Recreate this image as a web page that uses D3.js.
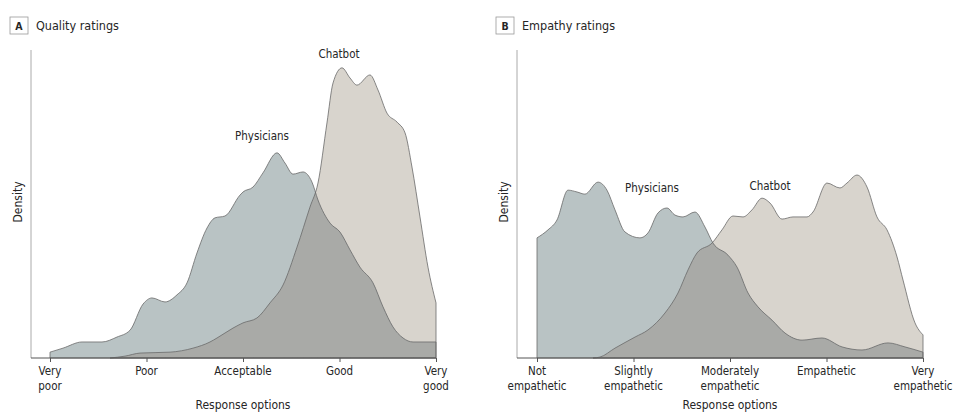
<!DOCTYPE html>
<html>
<head>
<meta charset="utf-8">
<script src="https://cdn.jsdelivr.net/npm/d3@7"></script>
<style>
  body { margin: 0; background: #fff; }
  text { font-family: "DejaVu Sans Condensed", "DejaVu Sans", sans-serif; fill: #262626; }
</style>
</head>
<body>
<svg id="chart" width="967" height="415"></svg>
<script>
// response scale 1..5, density in arbitrary units
var qualityTicks = ["Very|poor", "Poor", "Acceptable", "Good", "Very|good"];
var empathyTicks = ["Not|empathetic", "Slightly|empathetic", "Moderately|empathetic", "Empathetic", "Very|empathetic"];

var qualityPhysX = [1.000, 1.135, 1.332, 1.539, 1.694, 1.829, 1.964, 2.057, 2.192, 2.316, 2.420, 2.523, 2.627, 2.710, 2.813, 2.969, 3.000, 3.104, 3.207, 3.352, 3.435, 3.518, 3.622, 3.715, 3.777, 3.902, 4.005, 4.109, 4.212, 4.347, 4.451, 4.554, 4.658, 4.762, 5.000];
var qualityPhysY = [0.019, 0.032, 0.052, 0.052, 0.068, 0.090, 0.175, 0.195, 0.182, 0.205, 0.244, 0.341, 0.422, 0.455, 0.461, 0.529, 0.539, 0.555, 0.601, 0.666, 0.633, 0.597, 0.604, 0.571, 0.513, 0.438, 0.409, 0.351, 0.295, 0.244, 0.166, 0.101, 0.065, 0.052, 0.052];

var qualityBotX = [1.622, 1.777, 1.933, 2.244, 2.482, 2.658, 2.731, 2.896, 3.000, 3.145, 3.280, 3.415, 3.560, 3.694, 3.777, 3.870, 3.933, 4.026, 4.109, 4.181, 4.316, 4.399, 4.492, 4.596, 4.679, 4.751, 4.834, 4.917, 5.000];
var qualityBotY = [0.000, 0.006, 0.016, 0.019, 0.032, 0.052, 0.065, 0.097, 0.114, 0.130, 0.179, 0.237, 0.360, 0.490, 0.568, 0.763, 0.893, 0.942, 0.909, 0.886, 0.919, 0.870, 0.795, 0.766, 0.731, 0.620, 0.458, 0.295, 0.179];

var empathyPhysX = [1.000, 1.114, 1.207, 1.321, 1.415, 1.497, 1.632, 1.725, 1.808, 1.912, 2.067, 2.150, 2.254, 2.347, 2.430, 2.513, 2.637, 2.741, 2.824, 2.979, 3.073, 3.187, 3.290, 3.435, 3.570, 3.746, 3.953, 4.161, 4.368, 4.637, 4.813, 5.000];
var empathyPhysY = [0.390, 0.416, 0.448, 0.545, 0.539, 0.532, 0.571, 0.545, 0.481, 0.409, 0.390, 0.406, 0.471, 0.487, 0.464, 0.458, 0.474, 0.425, 0.373, 0.334, 0.295, 0.211, 0.166, 0.123, 0.081, 0.058, 0.065, 0.036, 0.026, 0.049, 0.036, 0.019];

var empathyBotX = [1.580, 1.653, 1.808, 2.016, 2.150, 2.326, 2.461, 2.565, 2.658, 2.813, 2.917, 3.031, 3.135, 3.228, 3.332, 3.415, 3.539, 3.653, 3.798, 3.860, 4.005, 4.140, 4.212, 4.316, 4.420, 4.523, 4.627, 4.731, 4.793, 4.917, 5.000];
var empathyBotY = [0.000, 0.003, 0.032, 0.068, 0.091, 0.146, 0.211, 0.286, 0.341, 0.373, 0.416, 0.461, 0.458, 0.481, 0.519, 0.503, 0.451, 0.458, 0.458, 0.474, 0.568, 0.552, 0.568, 0.594, 0.555, 0.458, 0.416, 0.328, 0.253, 0.114, 0.075];

var svg = d3.select("#chart");
var physColor = "#b9c3c4", botColor = "#d8d4cd", bothColor = "#a9aaa7", edge = "#6a6a6a";

function zip(xs, ys) {
    return xs.map(function(x, i) { return { x: x, y: ys[i] }; });
}

function panel(opt) {
    var g = svg.append("g");
    var x = d3.scaleLinear().domain([1, 5]).range([opt.left, opt.left + 386]);
    var y = d3.scaleLinear().domain([0, 1]).range([358, 50]);

    var area = d3.area()
        .x(function(d) { return x(d.x); })
        .y0(y(0))
        .y1(function(d) { return y(d.y); })
        .curve(d3.curveMonotoneX);

    var phys = zip(opt.physX, opt.physY);
    var bot = zip(opt.botX, opt.botY);

    // panel letter + title
    g.append("rect").attr("x", opt.axisX - 21).attr("y", 17).attr("width", 18).attr("height", 17)
        .attr("fill", "#fff").attr("stroke", "#999").attr("stroke-width", 0.8);
    g.append("text").attr("x", opt.axisX - 12).attr("y", 29.5).attr("text-anchor", "middle")
        .style("font-size", "10.5px").style("font-weight", "bold").text(opt.letter);
    g.append("text").attr("x", opt.axisX + 5).attr("y", 30)
        .style("font-size", "12.5px").text(opt.title);

    // y axis (no ticks)
    g.append("line").attr("x1", opt.axisX).attr("x2", opt.axisX).attr("y1", 50).attr("y2", 358)
        .attr("stroke", "#aaa").attr("stroke-width", 1);
    g.append("text")
        .attr("transform", "translate(" + (opt.axisX - 9) + ",202) rotate(-90)")
        .attr("text-anchor", "middle").style("font-size", "12px").text("Density");

    // areas
    var clipId = "clip" + opt.letter;
    g.append("clipPath").attr("id", clipId).append("path").attr("d", area(bot));
    g.append("path").attr("d", area(bot)).attr("fill", botColor);
    g.append("path").attr("d", area(phys)).attr("fill", physColor);
    g.append("path").attr("d", area(phys)).attr("fill", bothColor).attr("clip-path", "url(#" + clipId + ")");
    g.append("path").attr("d", area(bot)).attr("fill", "none").attr("stroke", edge).attr("stroke-width", 0.8);
    g.append("path").attr("d", area(phys)).attr("fill", "none").attr("stroke", edge).attr("stroke-width", 0.8);

    // x axis
    var xa = g.append("g").attr("transform", "translate(0,358)")
        .call(d3.axisBottom(x).tickValues([1, 2, 3, 4, 5]).tickSize(4).tickFormat(""));
    xa.select(".domain").remove();
    xa.selectAll(".tick line").attr("stroke", "#555");
    g.append("line").attr("x1", opt.axisX).attr("x2", x(5)).attr("y1", 358).attr("y2", 358)
        .attr("stroke", "#555").attr("stroke-width", 1);

    var labels = g.selectAll(".tl").data(opt.ticks).enter().append("text")
        .attr("text-anchor", "middle")
        .style("font-size", "11.5px")
        .attr("transform", function(d, i) { return "translate(" + x(i + 1) + ",375)"; });
    labels.each(function(d) {
        var t = d3.select(this);
        d.split("|").forEach(function(s, k) {
            t.append("tspan").attr("x", 0).attr("y", k * 15).text(s);
        });
    });
    g.append("text").attr("x", x(3)).attr("y", 409).attr("text-anchor", "middle")
        .style("font-size", "12px").text("Response options");

    // series labels
    g.append("text").attr("x", opt.physLabel[0]).attr("y", opt.physLabel[1]).attr("text-anchor", "middle")
        .style("font-size", "11.5px").text("Physicians");
    g.append("text").attr("x", opt.botLabel[0]).attr("y", opt.botLabel[1]).attr("text-anchor", "middle")
        .style("font-size", "11.5px").text("Chatbot");
}

panel({ letter: "A", title: "Quality ratings", left: 50, axisX: 31, ticks: qualityTicks,
        physX: qualityPhysX, physY: qualityPhysY, botX: qualityBotX, botY: qualityBotY,
        physLabel: [262, 140], botLabel: [339, 58] });
panel({ letter: "B", title: "Empathy ratings", left: 537, axisX: 517, ticks: empathyTicks,
        physX: empathyPhysX, physY: empathyPhysY, botX: empathyBotX, botY: empathyBotY,
        physLabel: [652, 192], botLabel: [770, 190] });
</script>
</body>
</html>
